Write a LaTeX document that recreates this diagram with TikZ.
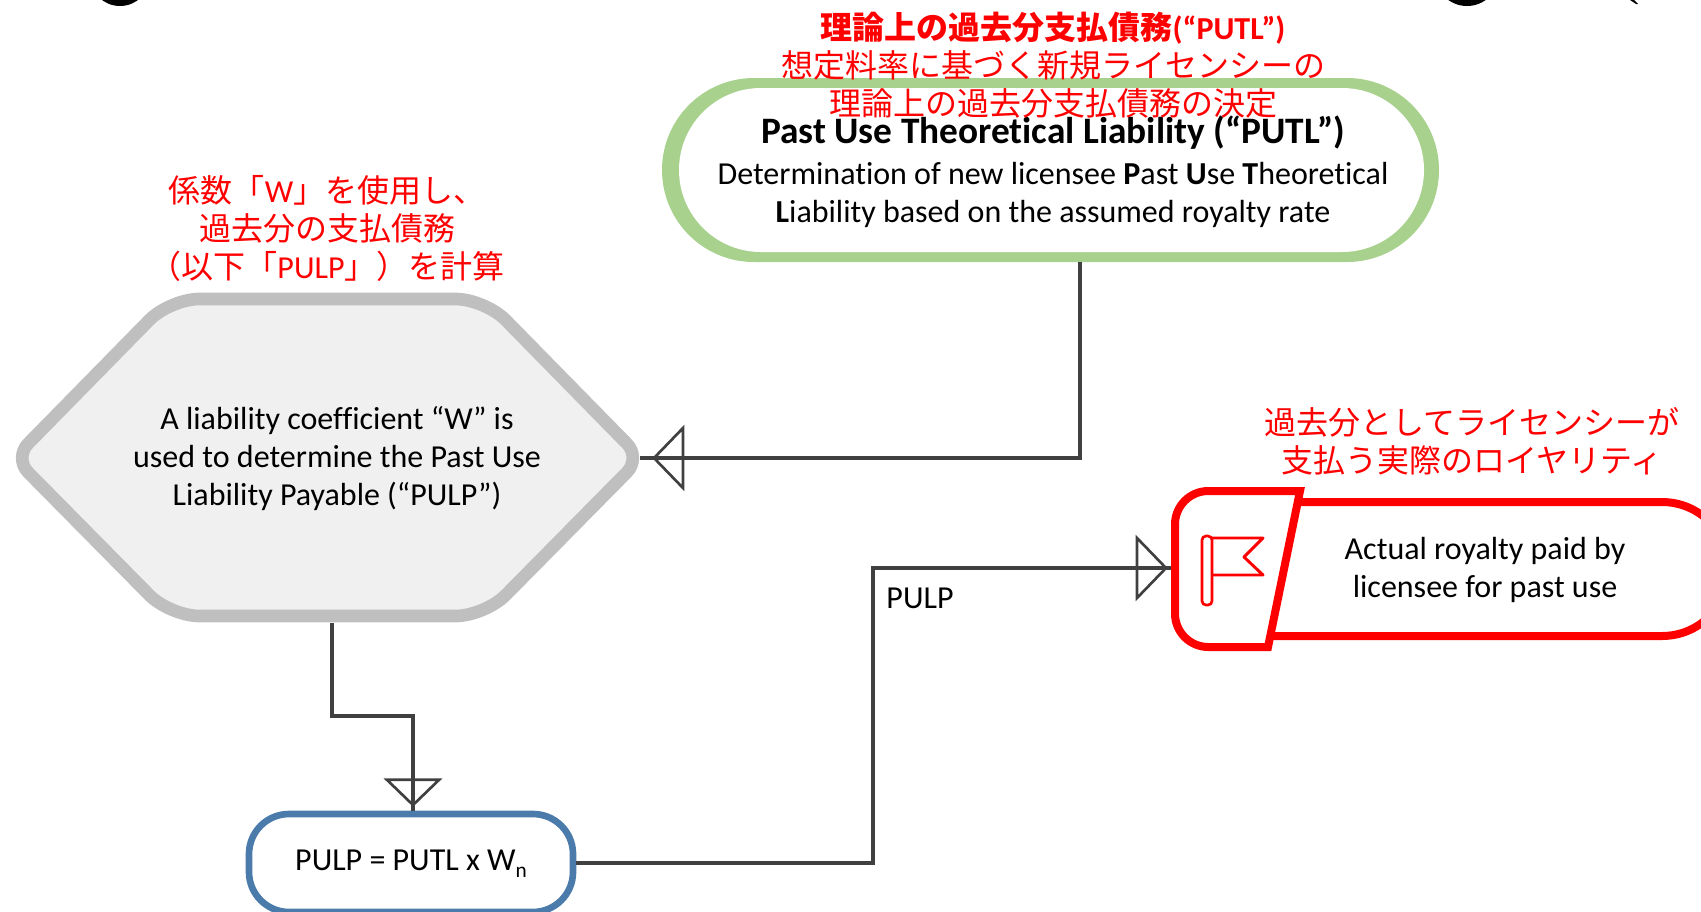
\documentclass[tikz,border=0pt]{standalone}
\usepackage{fontspec}
\usepackage{tikz}
\usetikzlibrary{positioning,shapes}
\setmainfont[Ligatures=NoCommon]{Carlito}
\newfontfamily\cjk{Noto Sans CJK JP}
\definecolor{LeafGreen}{HTML}{A9D18E}
\definecolor{HexGrey}{HTML}{BFBFBF}
\definecolor{HexFill}{HTML}{F0F0F0}
\definecolor{WireGrey}{HTML}{404040}
\definecolor{BoxBlue}{HTML}{4A7BAB}
\begin{document}
\begin{tikzpicture}[x=0.75pt,y=-0.75pt]
\tikzstyle{wire}=[draw=WireGrey,line width=2.3pt];
\tikzstyle{tiphead}=[draw=WireGrey,line width=2pt,line join=miter];
\tikzstyle{redline}=[draw=red,line width=6pt];
\tikzstyle{bodytext}=[align=center,text=black,font=\fontsize{24}{28.5}\selectfont];
\tikzstyle{redtext}=[align=center,text=red,font=\cjk\fontsize{24}{28.5}\selectfont];
\tikzset{opentip/.pic={\draw[tiphead] (0,0) -- (-29,30) -- (-29,-30) -- cycle;}}
\useasboundingbox (0,0) rectangle (1701,911);
\clip (0,0) rectangle (1701,911);
\fill[black] (120,-24) circle [radius=30];
\fill[black] (1467,-26) circle [radius=32];
\fill[black] (1630,0) -- (1634,0) -- (1638,4) -- (1636,4) -- cycle;
\node (putl) at (1050.5,170) [rounded rectangle,fill=LeafGreen,minimum width=777*0.75pt,minimum height=184*0.75pt,inner sep=0pt] {};
\fill[white,rounded corners=61.5pt] (679,88) rectangle (1424,252);
\draw[fill=HexFill,draw=HexGrey,line width=9.5pt] (327,299) [rounded corners=22pt] -- (485,299) [rounded corners=15pt] -- (641,458) [rounded corners=22pt] -- (485,616) -- (170,616) [rounded corners=15pt] -- (14,458) [rounded corners=22pt] -- (170,299) -- cycle;
\node (hex) at (327,458) [minimum width=626*0.75pt,minimum height=330*0.75pt,inner sep=0pt] {};
\node (sum) at (411,863) [rectangle,rounded corners=30pt,draw=BoxBlue,line width=5pt,fill=white,minimum width=324*0.75pt,minimum height=98*0.75pt,inner sep=0pt] {};
\draw[redline] (1300,502) -- (1662,502) arc (-90:90:67) -- (1268,636);
\draw[redline,fill=white] (1300,491) -- (1207,491) [rounded corners=25pt] -- (1175,491) -- (1175,647) [sharp corners] -- (1268,647) -- cycle;
\node (flag) at (1239,569) [minimum width=136*0.75pt,minimum height=164*0.75pt,inner sep=0pt] {};
\draw[draw=red,line width=2pt,rounded corners=3pt] (1202,536) rectangle (1212,605);
\draw[draw=red,line width=2.2pt,line join=round] (1212,538) -- (1263,538) -- (1244,557) -- (1263,575) -- (1212,575);
\coordinate (turna) at (1080,458);
\coordinate (turnb) at (332,716);
\coordinate (turnc) at (413,716);
\coordinate (turnd) at (873,863);
\coordinate (turne) at (873,568);
\draw[wire] (1080,262) -- (turna) -- (hex.east);
\draw[wire] (hex.south -| turnb) -- (turnb) -- (turnc) -- (turnc |- sum.north);
\draw[wire] (sum.east) -- (turnd) -- (turne) -- (turne -| flag.west);
\pic[rotate=180] at (654,458) {opentip};
\pic[rotate=-90,scale=0.87] at (413,805) {opentip};
\pic at (1166,568) {opentip};
\node (pulplabel) at (920,598) [bodytext] {PULP};
\node (putltext) at (1053,172) [bodytext] {{\bfseries\fontsize{28}{28.5}\selectfont Past Use Theoretical Liability (“PUTL”)}\\[2pt]Determination of new licensee \textbf{P}ast \textbf{U}se \textbf{T}heoretical\\\textbf{L}iability based on the assumed royalty rate};
\node (hextext) at (337,459) [bodytext] {A liability coefficient “W” is\\used to determine the Past Use\\Liability Payable (“PULP”)};
\node (sumtext) at (411,864) [bodytext] {PULP = PUTL x W\raisebox{-5pt}{\fontsize{16}{16}\selectfont n}};
\node (paidtext) at (1485,570) [bodytext] {Actual royalty paid by\\licensee for past use};
\node (putlred) at (1053,65) [redtext] {{\bfseries 理論上の過去分支払債務{\rmfamily(“PUTL”)}}\\想定料率に基づく新規ライセンシーの\\理論上の過去分支払債務の決定};
\node (hexred) at (327,228) [redtext] {係数「{\rmfamily W}」を使用し、\\過去分の支払債務\\（以下「{\rmfamily PULP}」）を計算};
\node (paidred) at (1472,441) [redtext] {過去分としてライセンシーが\\支払う実際のロイヤリティ};
\end{tikzpicture}
\end{document}
